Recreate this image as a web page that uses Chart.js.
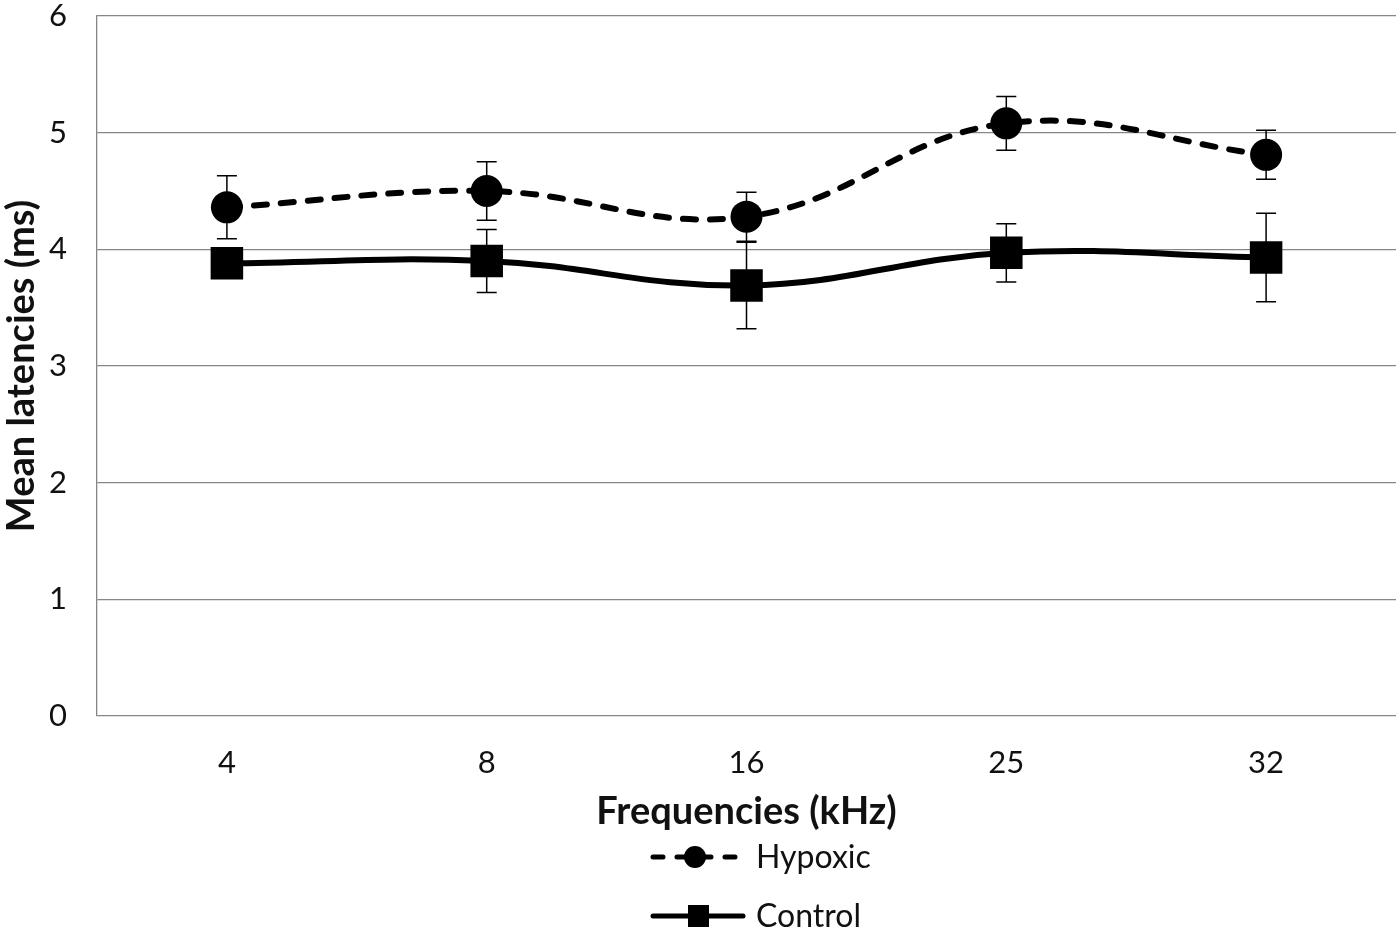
<!DOCTYPE html>
<html>
<head>
<meta charset="utf-8">
<script src="https://cdn.jsdelivr.net/npm/chart.js@4"></script>
<style>
  html, body { margin: 0; padding: 0; background: #fff; }
  #wrap { width: 1400px; height: 934px; }
</style>
</head>
<body>
<div id="wrap"><canvas id="lineChart"></canvas></div>
<script>
// Frequencies and mean latencies
const labels = ["4", "8", "16", "25", "32"];
const hypoxic = [4.36, 4.50, 4.28, 5.08, 4.81];
const hypoxicErr = [0.27, 0.25, 0.21, 0.23, 0.21];
const control = [3.88, 3.90, 3.69, 3.97, 3.93];
const controlErr = [0.08, 0.27, 0.37, 0.25, 0.38];
const yTicks = [0, 1, 2, 3, 4, 5, 6];

const FONT = "Lato, 'Open Sans', sans-serif";

// error bars, drawn under the markers
const errorBars = {
    id: 'errorBars',
    beforeDatasetsDraw(chart) {
        const ctx = chart.ctx;
        const y = chart.scales.y;
        const errs = [hypoxicErr, controlErr];
        ctx.save();
        ctx.strokeStyle = '#000';
        ctx.lineWidth = 1.5;
        chart.data.datasets.forEach((ds, i) => {
            const meta = chart.getDatasetMeta(i);
            meta.data.forEach((pt, j) => {
                const v = ds.data[j];
                const top = y.getPixelForValue(v + errs[i][j]);
                const bot = y.getPixelForValue(v - errs[i][j]);
                ctx.beginPath();
                ctx.moveTo(pt.x, top); ctx.lineTo(pt.x, bot);
                ctx.moveTo(pt.x - 10, top); ctx.lineTo(pt.x + 10, top);
                ctx.moveTo(pt.x - 10, bot); ctx.lineTo(pt.x + 10, bot);
                ctx.stroke();
            });
        });
        ctx.restore();
    }
};

// legend stacked under the x title
const stackedLegend = {
    id: 'stackedLegend',
    afterDraw(chart) {
        const ctx = chart.ctx;
        const cx = 698;
        const rows = [
            { text: 'Hypoxic', y: 857, dash: [10, 14], marker: 'circle' },
            { text: 'Control', y: 916, dash: [], marker: 'rect' }
        ];
        ctx.save();
        rows.forEach(r => {
            ctx.strokeStyle = '#000';
            ctx.fillStyle = '#000';
            ctx.lineWidth = 5;
            ctx.lineCap = 'round';
            ctx.setLineDash(r.dash);
            ctx.beginPath();
            ctx.moveTo(cx - 45, r.y); ctx.lineTo(cx + 45, r.y);
            ctx.stroke();
            ctx.setLineDash([]);
            ctx.beginPath();
            if (r.marker === 'circle') {
                ctx.arc(cx - 3, r.y, 11, 0, Math.PI * 2);
            } else {
                ctx.rect(cx - 10, r.y - 11, 21, 22);
            }
            ctx.fill();
            ctx.font = '32px ' + FONT;
            ctx.textBaseline = 'middle';
            ctx.fillStyle = '#111';
            ctx.fillText(r.text, cx + 58, r.y + 1);
        });
        ctx.restore();
    }
};

const ctx = document.getElementById('lineChart').getContext('2d');
const lineChart = new Chart(ctx, {
    type: 'line',
    data: {
        labels: labels,
        datasets: [{
            label: 'Hypoxic',
            data: hypoxic,
            borderColor: '#000',
            backgroundColor: '#000',
            borderWidth: 6,
            borderDash: [13, 14],
            borderCapStyle: 'round',
            tension: 0.4,
            pointStyle: 'circle',
            pointRadius: 16,
            pointHoverRadius: 16,
            pointBorderWidth: 0
        }, {
            label: 'Control',
            data: control,
            borderColor: '#000',
            backgroundColor: '#000',
            borderWidth: 6,
            tension: 0.4,
            pointStyle: 'rect',
            pointRadius: 23,
            pointHoverRadius: 23,
            pointBorderWidth: 0
        }]
    },
    options: {
        responsive: true,
        maintainAspectRatio: false,
        animation: false,
        layout: { autoPadding: false, padding: { top: 0, right: 4, bottom: 103, left: 0 } },
        plugins: {
            legend: { display: false },
            tooltip: { enabled: false }
        },
        scales: {
            x: {
                offset: true,
                afterFit: s => { s.height = 115; },
                grid: { display: false, drawTicks: false },
                border: { display: false },
                ticks: { color: '#111', font: { family: FONT, size: 31 }, padding: 28 },
                title: {
                    display: true,
                    text: 'Frequencies (kHz)',
                    color: '#111',
                    font: { family: FONT, size: 38, weight: 'bold', lineHeight: 1.0 },
                    padding: { top: 0, bottom: 0 }
                }
            },
            y: {
                min: 0,
                max: 6,
                afterBuildTicks: axis => { axis.ticks = yTicks.map(v => ({ value: v })); },
                afterFit: s => { s.width = 97; s.paddingTop = 16; s.paddingBottom = 0; },
                grid: { color: '#868686', lineWidth: 1.3, drawTicks: false },
                border: { display: true, color: '#868686', width: 1.3 },
                ticks: { color: '#111', font: { family: FONT, size: 31 }, padding: 30 },
                title: {
                    display: true,
                    text: 'Mean latencies (ms)',
                    color: '#111',
                    font: { family: FONT, size: 38, weight: 'bold', lineHeight: 1.0 },
                    padding: { top: 3, bottom: 0 }
                }
            }
        }
    },
    plugins: [errorBars, stackedLegend]
});
</script>
</body>
</html>
